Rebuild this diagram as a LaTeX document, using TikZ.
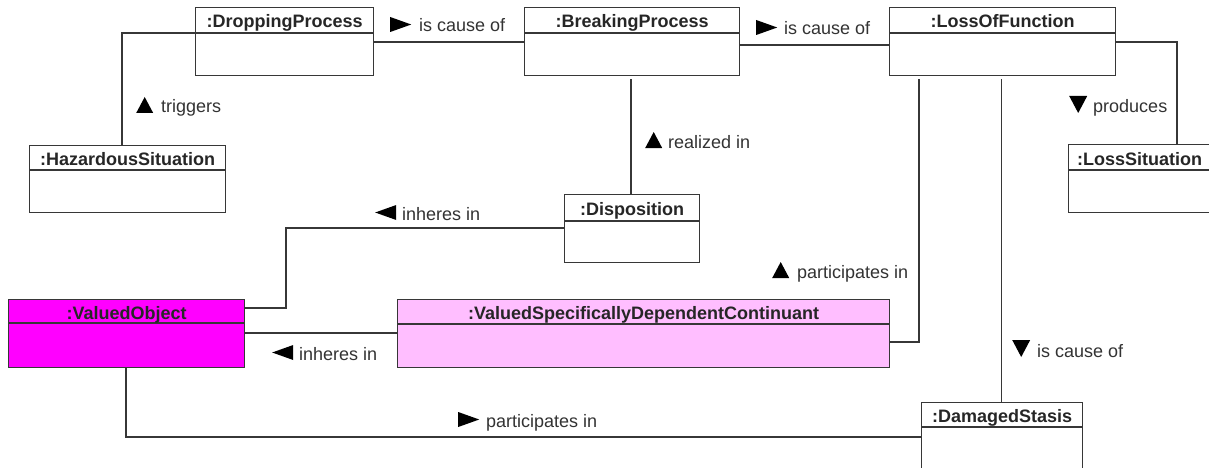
\documentclass[tikz,border=0pt]{standalone}
\usepackage{fontspec}
\setmainfont{Liberation Sans}
\usetikzlibrary{calc}
\definecolor{vomag}{RGB}{255,0,255}
\definecolor{vspink}{RGB}{255,190,255}
\definecolor{lncol}{RGB}{55,55,55}
\newcommand\mytriR{\tikz[baseline=0pt]\fill[black] (0pt,0pt) -- (21pt,7.5pt) -- (0pt,15pt) -- cycle;}
\newcommand\mytriL{\tikz[baseline=0pt]\fill[black] (21pt,0pt) -- (0pt,7.5pt) -- (21pt,15pt) -- cycle;}
\newcommand\mytriU{\tikz[baseline=0pt]\fill[black] (0pt,0pt) -- (8.5pt,16pt) -- (17pt,0pt) -- cycle;}
\newcommand\mytriD{\tikz[baseline=0pt]\fill[black] (0pt,17pt) -- (9pt,0pt) -- (18pt,17pt) -- cycle;}
\begin{document}
\begin{tikzpicture}[x=1pt,y=-1pt,
  umlbox/.style={draw=lncol, line width=1.3pt, fill=white, inner sep=0pt, anchor=north west},
  conn/.style={draw=lncol, line width=1.3pt},
  ttl/.style={font=\bfseries\fontsize{18}{20}\selectfont, text=black!85, inner sep=0pt, anchor=base},
  lbl/.style={font=\fontsize{18}{20}\selectfont, text=black!80, inner sep=0pt, anchor=base west}]
\useasboundingbox (0,0) rectangle (1209,468);
\clip (0,0) rectangle (1209,468);
\fill[white] (0,0) rectangle (1209,468);

% boxes
\node[umlbox, minimum width=178pt, minimum height=68pt] (drop) at (195,7) {};
\node[umlbox, minimum width=215pt, minimum height=68pt] (brk) at (524,7) {};
\node[umlbox, minimum width=226pt, minimum height=68pt] (lof) at (889,7) {};
\node[umlbox, minimum width=142pt, minimum height=68pt] (lsit) at (1068,144) {};
\node[umlbox, minimum width=196pt, minimum height=67pt] (haz) at (29,145) {};
\node[umlbox, minimum width=135pt, minimum height=68pt] (disp) at (564,194) {};
\node[umlbox, fill=vomag, minimum width=236pt, minimum height=68pt] (vo) at (8,299) {};
\node[umlbox, fill=vspink, minimum width=492pt, minimum height=68pt] (vsdc) at (397,299) {};
\node[umlbox, minimum width=161pt, minimum height=68pt] (dam) at (921,402) {};

% dividers
\draw[conn] ($(drop.north west)+(0,26)$) -- ($(drop.north east)+(0,26)$);
\draw[conn] ($(brk.north west)+(0,26)$) -- ($(brk.north east)+(0,26)$);
\draw[conn] ($(lof.north west)+(0,26)$) -- ($(lof.north east)+(0,26)$);
\draw[conn] ($(lsit.north west)+(0,26)$) -- ($(lsit.north east)+(0,26)$);
\draw[conn] ($(haz.north west)+(0,25)$) -- ($(haz.north east)+(0,25)$);
\draw[conn] ($(disp.north west)+(0,27)$) -- ($(disp.north east)+(0,27)$);
\draw[conn] ($(vo.north west)+(0,24)$) -- ($(vo.north east)+(0,24)$);
\draw[conn] ($(vsdc.north west)+(0,25)$) -- ($(vsdc.north east)+(0,25)$);
\draw[conn] ($(dam.north west)+(0,25)$) -- ($(dam.north east)+(0,25)$);

% titles
\node[ttl] (dropT) at ($(drop.north)+(0,21)$) {:DroppingProcess};
\node[ttl] (brkT) at ($(brk.north)+(0,21)$) {:BreakingProcess};
\node[ttl] (lofT) at ($(lof.north)+(0,21)$) {:LossOfFunction};
\node[ttl] (lsitT) at ($(lsit.north)+(0,21)$) {:LossSituation};
\node[ttl] (hazT) at ($(haz.north)+(0,20.5)$) {:HazardousSituation};
\node[ttl] (dispT) at ($(disp.north)+(0,21)$) {:Disposition};
\node[ttl] (voT) at ($(vo.north)+(0,20)$) {:ValuedObject};
\node[ttl] (vsdcT) at ($(vsdc.north)+(0,20)$) {:ValuedSpecificallyDependentContinuant};
\node[ttl] (damT) at ($(dam.north)+(0,20.5)$) {:DamagedStasis};

% connectors
\draw[conn] ($(drop.north west)+(0,26)$) -| ($(haz.north west)+(93,0)$);
\draw[conn] ($(drop.north east)+(0,35)$) -- ($(brk.north west)+(0,35)$);
\draw[conn] ($(brk.north east)+(0,38)$) -- ($(lof.north west)+(0,38)$);
\draw[conn] ($(brk.south west)+(107,3)$) -- ($(disp.north west)+(67,0)$);
\draw[conn] ($(lof.north east)+(0,35)$) -| ($(lsit.north west)+(109,0)$);
\draw[conn] ($(lof.south west)+(30,3)$) |- ($(vsdc.north east)+(0,43)$);
\draw[conn] ($(lof.south west)+(112.5,3)$) -- ($(dam.north west)+(80.5,0)$);
\draw[conn] ($(disp.north west)+(0,34)$) -- ++(-278,0) |- ($(vo.north east)+(0,9)$);
\draw[conn] ($(vsdc.north west)+(0,34)$) -- ($(vo.north east)+(0,34)$);
\draw[conn] ($(vo.south west)+(118,0)$) |- ($(dam.north west)+(0,35)$);

% labels
\node[lbl] (l1) at (136,113) {\mytriU\hspace{8pt}triggers};
\node[lbl] (l2) at (390,32) {\mytriR\hspace{8pt}is cause of};
\node[lbl] (l3) at (756,35) {\mytriR\hspace{7pt}is cause of};
\node[lbl] (l4) at (645,148) {\mytriU\hspace{6pt}realized in};
\node[lbl] (l5) at (1069,113) {\mytriD\hspace{6pt}produces};
\node[lbl] (l6) at (772,278) {\mytriU\hspace{8pt}participates in};
\node[lbl] (l7) at (1012,357) {\mytriD\hspace{7pt}is cause of};
\node[lbl] (l8) at (375,220) {\mytriL\hspace{6pt}inheres in};
\node[lbl] (l9) at (272,360) {\mytriL\hspace{6pt}inheres in};
\node[lbl] (l10) at (458,427) {\mytriR\hspace{7pt}participates in};
\end{tikzpicture}
\end{document}
